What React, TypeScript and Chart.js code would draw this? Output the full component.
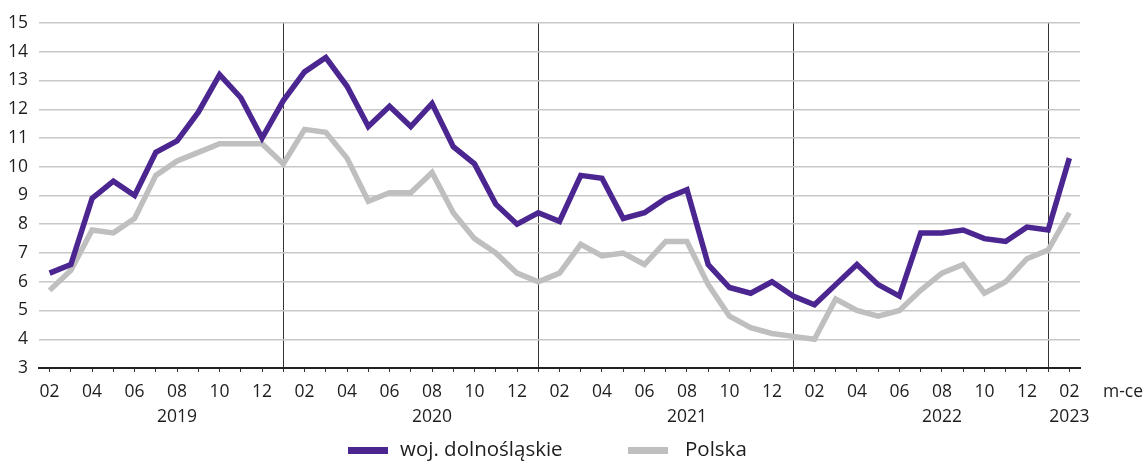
import React, { useEffect, useRef } from "react";
import { Chart, registerables } from "chart.js";

Chart.register(...registerables);

const categories: string[] = [
  "2019-02", "2019-03", "2019-04", "2019-05", "2019-06", "2019-07", "2019-08", "2019-09", "2019-10", "2019-11", "2019-12",
  "2020-01", "2020-02", "2020-03", "2020-04", "2020-05", "2020-06", "2020-07", "2020-08", "2020-09", "2020-10", "2020-11", "2020-12",
  "2021-01", "2021-02", "2021-03", "2021-04", "2021-05", "2021-06", "2021-07", "2021-08", "2021-09", "2021-10", "2021-11", "2021-12",
  "2022-01", "2022-02", "2022-03", "2022-04", "2022-05", "2022-06", "2022-07", "2022-08", "2022-09", "2022-10", "2022-11", "2022-12",
  "2023-01", "2023-02",
];

const dolnoslaskie: number[] = [
  6.3, 6.6, 8.9, 9.5, 9.0, 10.5, 10.9, 11.9, 13.2, 12.4, 11.0,
  12.3, 13.3, 13.8, 12.8, 11.4, 12.1, 11.4, 12.2, 10.7, 10.1, 8.7, 8.0,
  8.4, 8.1, 9.7, 9.6, 8.2, 8.4, 8.9, 9.2, 6.6, 5.8, 5.6, 6.0,
  5.5, 5.2, 5.9, 6.6, 5.9, 5.5, 7.7, 7.7, 7.8, 7.5, 7.4, 7.9,
  7.8, 10.3,
];

const polska: number[] = [
  5.7, 6.4, 7.8, 7.7, 8.2, 9.7, 10.2, 10.5, 10.8, 10.8, 10.8,
  10.1, 11.3, 11.2, 10.3, 8.8, 9.1, 9.1, 9.8, 8.4, 7.5, 7.0, 6.3,
  6.0, 6.3, 7.3, 6.9, 7.0, 6.6, 7.4, 7.4, 5.9, 4.8, 4.4, 4.2,
  4.1, 4.0, 5.4, 5.0, 4.8, 5.0, 5.7, 6.3, 6.6, 5.6, 6.0, 6.8,
  7.1, 8.4,
];

const yearLabels: [string, string][] = [
  ["2019-08", "2019"],
  ["2020-08", "2020"],
  ["2021-08", "2021"],
  ["2022-08", "2022"],
  ["2023-02", "2023"],
];

const seriesNames = ["woj. dolnośląskie", "Polska"];
const seriesColors = ["#4b2590", "#bfbfbf"];
const unitLabel = "m-ce";
const FONT = "'Open Sans', 'Noto Sans', sans-serif";

const extrasPlugin = {
  id: "extras",
  afterDraw(chart: any) {
    const ctx = chart.ctx;
    ctx.save();
    ctx.fillStyle = "#1e1e1e";
    ctx.font = `17.5px ${FONT}`;
    ctx.textAlign = "left";
    ctx.textBaseline = "middle";
    ctx.fillText(unitLabel, 1103, 392);
    const items = [
      { x: 348, tx: 400 },
      { x: 628, tx: 685 },
    ];
    ctx.font = `20.5px ${FONT}`;
    items.forEach((it, i) => {
      const ds = chart.data.datasets[i];
      ctx.fillStyle = ds.borderColor;
      ctx.fillRect(it.x, 447, 40, 7);
      ctx.fillStyle = "#1e1e1e";
      ctx.fillText(ds.label, it.tx, 450);
    });
    ctx.restore();
  },
};

export default function App() {
  const ref = useRef<HTMLCanvasElement | null>(null);
  useEffect(() => {
    if (!ref.current) return;
    const yearMap = new Map(yearLabels);
    const chart = new Chart(ref.current, {
      type: "line",
      data: {
        labels: categories,
        datasets: [
          {
            label: seriesNames[0],
            data: dolnoslaskie,
            borderColor: seriesColors[0],
            backgroundColor: seriesColors[0],
            borderWidth: 5.5,
            pointRadius: 0,
            tension: 0,
          },
          {
            label: seriesNames[1],
            data: polska,
            borderColor: seriesColors[1],
            backgroundColor: seriesColors[1],
            borderWidth: 5.5,
            pointRadius: 0,
            tension: 0,
          },
        ],
      },
      options: {
        animation: false,
        responsive: false,
        layout: { padding: { left: 0, right: 67, top: 23, bottom: 0 } },
        plugins: {
          legend: { display: false },
          tooltip: { enabled: false },
        },
        scales: {
          x: {
            type: "category",
            offset: true,
            afterFit(scale: any) {
              scale.height = 94;
            },
            border: { display: true, color: "#222", width: 2 },
            grid: {
              color: (c: any) => {
                const cat = categories[c.index];
                return cat && cat.endsWith("-01") ? "#333" : "rgba(0,0,0,0)";
              },
              lineWidth: 1,
              tickColor: "#333",
              tickLength: 4,
              drawTicks: true,
            },
            ticks: {
              autoSkip: false,
              maxRotation: 0,
              minRotation: 0,
              padding: 7,
              color: "#1e1e1e",
              font: { family: FONT, size: 17.5, lineHeight: 1.45 },
              callback: (_v: any, i: number) => {
                const cat = categories[i];
                const m = parseInt(cat.slice(5), 10);
                if (m % 2 !== 0) return "";
                const y = yearMap.get(cat);
                return y ? [cat.slice(5), y] : cat.slice(5);
              },
            },
          },
          y: {
            min: 3,
            max: 15,
            afterFit(scale: any) {
              scale.width = 39;
            },
            border: { display: false },
            grid: {
              color: (c: any) => (c.tick && c.tick.value === 3 ? "rgba(0,0,0,0)" : "#c8c8c8"),
              lineWidth: 1.5,
              drawTicks: false,
            },
            ticks: {
              stepSize: 1,
              padding: 11,
              color: "#1e1e1e",
              font: { family: FONT, size: 17.5 },
            },
          },
        },
      },
      plugins: [extrasPlugin],
    });
    return () => chart.destroy();
  }, []);
  return (
    <div style={{ position: "fixed", left: 0, top: 0, width: 1147, height: 462, background: "#fff" }}>
      <canvas ref={ref} width={1147} height={462} />
    </div>
  );
}
